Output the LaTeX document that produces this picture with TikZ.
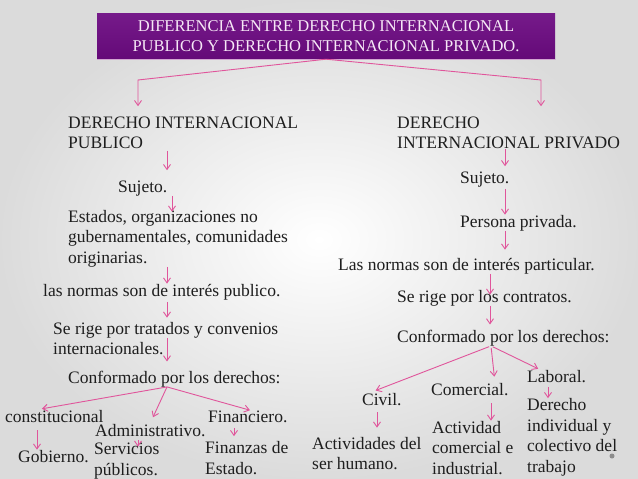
\documentclass[tikz,border=0pt]{standalone}
\usepackage{fontspec}
\setmainfont{Liberation Serif}
\usetikzlibrary{arrows.meta}
\definecolor{arrowpink}{HTML}{E0559B}
\definecolor{titlepurple}{HTML}{640A78}
\definecolor{titletop}{HTML}{761A8A}
\definecolor{titletext}{HTML}{F6E8F6}
\definecolor{textdark}{HTML}{1E1E1E}
\begin{document}
\begin{tikzpicture}[x=1pt,y=-1pt,
    txt/.style={anchor=base west,inner sep=0pt,align=left,text=textdark,
        font=\fontsize{17.5}{20.5}\selectfont},
    arr/.style={draw=arrowpink,line width=0.9pt,-{Straight Barb[length=5pt,width=7pt]}}]
    \useasboundingbox (0,0) rectangle (638,479);
    \shade[inner color=white,outer color=black!14] (0,0) rectangle (638,479);
    % title
    \node[top color=titletop,bottom color=titlepurple,minimum width=458pt,minimum height=46pt,
        text=titletext,align=center,font=\fontsize{16.5}{20}\selectfont,inner sep=0pt]
        (title) at (326,36) {DIFERENCIA ENTRE DERECHO INTERNACIONAL\\PUBLICO Y DERECHO INTERNACIONAL PRIVADO.};
    \draw[violet!35,line width=1pt] (title.south west) -- (title.south east);
    % columns of the arrows
    \coordinate (lcorner) at (138,80);
    \coordinate (rcorner) at (541,80);
    \coordinate (lx) at (167,0);
    \coordinate (lx2) at (172,0);
    \coordinate (cx) at (37,0);
    \coordinate (ax) at (138,0);
    \coordinate (ax2) at (150,0);
    \coordinate (fx) at (234,0);
    \coordinate (fx2) at (250,0);
    \coordinate (rx) at (505,0);
    \coordinate (rx2) at (490,0);
    \coordinate (cvx) at (370,0);
    \coordinate (cvx2) at (377,0);
    \coordinate (cmx) at (491,0);
    \coordinate (cmx2) at (495,0);
    \coordinate (lbx) at (540,0);
    \coordinate (lbx2) at (548,0);
    % publico (base = last line)
    \node[txt] (lpub) at (68,148.5) {DERECHO INTERNACIONAL\\PUBLICO};
    \node[txt] (lsuj) at (118,192) {Sujeto.};
    \node[txt] (lest) at (68,263) {Estados, organizaciones no\\gubernamentales, comunidades\\originarias.};
    \node[txt] (lnor) at (43,296) {las normas son de interés publico.};
    \node[txt] (lrig) at (53,354.5) {Se rige por tratados y convenios\\internacionales.};
    \node[txt] (lcon) at (68,383) {Conformado por los derechos:};
    \node[txt] (lcons) at (5,422) {constitucional};
    \node[txt] (ladm) at (95,436) {Administrativo.};
    \node[txt] (lfin) at (208,422) {Financiero.};
    \node[txt] (lgob) at (18,462) {Gobierno.};
    \node[txt] (lser) at (94,475) {Servicios\\públicos.};
    \node[txt] (lfinz) at (205,474) {Finanzas de\\Estado.};
    % privado
    \node[txt] (rpri) at (397,148.5) {DERECHO\\INTERNACIONAL PRIVADO};
    \node[txt] (rsuj) at (460,183) {Sujeto.};
    \node[txt] (rper) at (460,227) {Persona privada.};
    \node[txt] (rnor) at (338,270) {Las normas son de interés particular.};
    \node[txt] (rrig) at (397,302) {Se rige por los contratos.};
    \node[txt] (rcon) at (397,342) {Conformado por los derechos:};
    \node[txt] (rciv) at (362,405) {Civil.};
    \node[txt] (rcom) at (431,395) {Comercial.};
    \node[txt] (rlab) at (527,382) {Laboral.};
    \node[txt] (ract) at (312,469.5) {Actividades del\\ser humano.};
    \node[txt] (racc) at (432,474) {Actividad\\comercial e\\industrial.};
    \node[txt] (rder) at (527,472) {Derecho\\individual y\\colectivo del\\trabajo};
    \fill[black!45] (612,456) circle (2.5);
    % arrows from the title
    \draw[arr,shorten >=10pt] (title.south) -- (lcorner) -- (lcorner |- lpub.north);
    \draw[arr,shorten >=10pt] (title.south) -- (rcorner) -- (rcorner |- lpub.north);
    % arrows publico
    \draw[arr,shorten <=2pt,shorten >=10pt] (lpub.south -| lx) -- (lsuj.north -| lx);
    \draw[arr,shorten >=-2pt] (lsuj.south -| lx2) -- (lest.north -| lx2);
    \draw[arr] (lest.south -| lx) -- (lnor.north -| lx);
    \draw[arr,shorten <=2pt,shorten >=4pt] (lnor.south -| lx) -- (lrig.north -| lx);
    \draw[arr,shorten >=9pt] (lrig.center -| lx) -- (lcon.north -| lx);
    \draw[arr,shorten >=5pt] (lcon.south -| lx) -- (cx |- lcons.north);
    \draw[arr,shorten >=7pt] (lcon.south -| lx) -- (ax2 |- ladm.north);
    \draw[arr] (lcon.south -| lx) -- (fx2 |- lfin.north);
    \draw[arr,shorten <=8pt] (lcons.south -| cx) -- (lgob.north -| cx);
    \draw[arr,shorten <=4pt,shorten >=-4pt] (ladm.south -| ax) -- (lser.north -| ax);
    \draw[arr,shorten <=6pt,shorten >=5pt] (lfin.south -| fx) -- (lfinz.north -| fx);
    % arrows privado
    \draw[arr,shorten >=5pt] (rpri.south -| rx) -- (rsuj.north -| rx);
    \draw[arr,shorten <=2pt] (rsuj.south -| rx) -- (rper.north -| rx);
    \draw[arr,shorten >=8pt] (rper.south -| rx) -- (rnor.north -| rx);
    \draw[arr,shorten >=-5pt] (rnor.south -| rx2) -- (rrig.north -| rx2);
    \draw[arr,shorten >=5pt] (rrig.south -| rx2) -- (rcon.north -| rx2);
    \draw[arr,shorten <=2pt,shorten >=6pt] (rcon.south -| cmx) -- (cvx |- rciv.north);
    \draw[arr,shorten <=2pt,shorten >=6pt] (rcon.south -| cmx) -- (cmx2 |- rcom.north);
    \draw[arr,shorten <=2pt,shorten >=2pt] (rcon.south -| cmx) -- (lbx |- rlab.north);
    \draw[arr,shorten <=7pt,shorten >=9pt] (rciv.south -| cvx2) -- (ract.north -| cvx2);
    \draw[arr,shorten <=8pt] (rcom.south -| cmx) -- (racc.north -| cmx);
    \draw[arr,shorten <=5pt] (rlab.south -| lbx2) -- (rder.north -| lbx2);
\end{tikzpicture}
\end{document}
